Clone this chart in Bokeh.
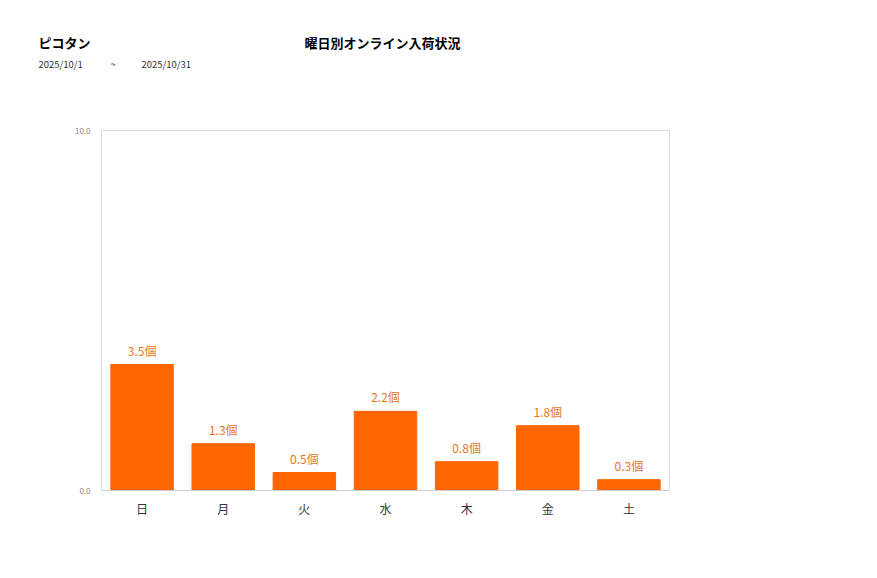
from bokeh.plotting import figure
from bokeh.layouts import column
from bokeh.models import ColumnDataSource, FixedTicker, CustomJSTickFormatter
from bokeh.embed import file_html
from bokeh.resources import INLINE
from bokeh.core.properties import value

days = ["日", "月", "火", "水", "木", "金", "土"]
counts = [3.5, 1.3, 0.5, 2.2, 0.8, 1.8, 0.3]
y_ticks = [0, 10]

shop_name = "ピコタン"
chart_title = "曜日別オンライン入荷状況"
date_from = "2025/10/1"
date_to = "2025/10/31"

FONT = "Noto Sans CJK JP"

# header strip drawn as its own figure (labels outside the frame get clipped)
header = figure(width=868, height=100, x_range=(0, 868), y_range=(0, 100),
                output_backend="svg", toolbar_location=None, tools="",
                x_axis_location=None, y_axis_location=None,
                min_border=0, outline_line_color=None, frame_align=False)
header.grid.visible = False
header.text(x=[38], y=[58], text=[shop_name], text_font=value(FONT),
            text_font_size="13px", text_font_style="bold", text_color="#000000",
            text_baseline="middle")
header.text(x=[382], y=[58], text=[chart_title], text_font=value(FONT),
            text_font_size="13px", text_font_style="bold", text_color="#000000",
            text_baseline="middle", text_align="center")
header.text(x=[38, 110, 141], y=[37, 37, 37], text=[date_from, "~", date_to],
            text_font=value(FONT), text_font_size="9.5px", text_color="#333333",
            text_baseline="middle")

src = ColumnDataSource(data=dict(
    day=days,
    count=counts,
    label=["%.1f個" % c for c in counts],
))

chart = figure(x_range=days, y_range=(0, 10), width=868, height=468,
               output_backend="svg", toolbar_location=None, tools="",
               min_border_left=101, min_border_right=199,
               min_border_top=30, min_border_bottom=78, frame_align=False)

chart.vbar(x="day", top="count", width=0.77, source=src,
           fill_color="#FF6600", line_color="#FF6600")
chart.text(x="day", y="count", text="label", source=src,
           text_align="center", text_baseline="bottom", y_offset=-6,
           text_font=value(FONT), text_font_size="12px", text_color="#E8731E")

chart.outline_line_color = "#dddddd"
chart.grid.visible = False

chart.yaxis.ticker = FixedTicker(ticks=y_ticks)
chart.yaxis.formatter = CustomJSTickFormatter(code="return tick.toFixed(1);")
chart.yaxis.axis_line_color = None
chart.yaxis.major_tick_line_color = None
chart.yaxis.minor_tick_line_color = None
chart.yaxis.major_label_text_font_size = "8px"
chart.yaxis.major_label_text_color = "#888888"
chart.yaxis.major_label_text_font = FONT
chart.yaxis.major_label_standoff = 5

chart.xaxis.axis_line_color = "#cccccc"
chart.xaxis.major_tick_line_color = None
chart.xaxis.minor_tick_line_color = None
chart.xaxis.major_label_text_font_size = "12px"
chart.xaxis.major_label_text_color = "#333333"
chart.xaxis.major_label_text_font = FONT
chart.xaxis.major_label_standoff = 3

p = column(header, chart)

open("out.html", "w").write(file_html(p, INLINE))
